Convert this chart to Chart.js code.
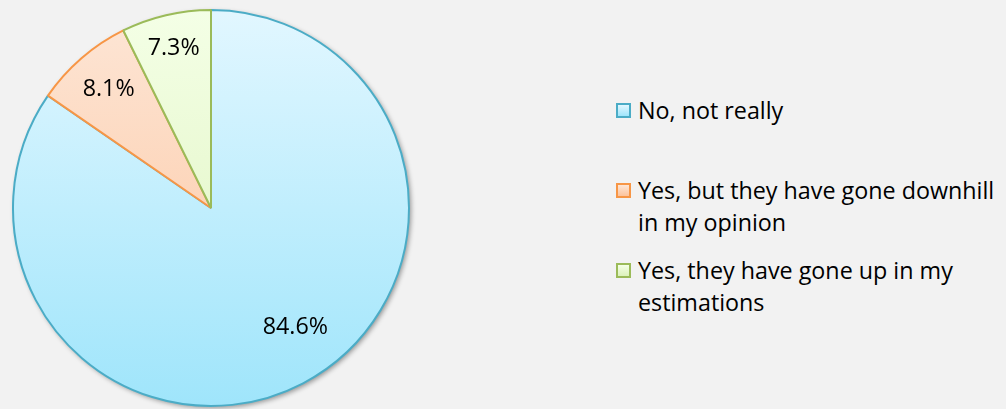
<!DOCTYPE html>
<html lang="en">
  <head>
    <meta charset="UTF-8" />
    <title>Opinion Survey</title>
    <script src="https://cdn.jsdelivr.net/npm/chart.js"></script>
    <style>
      body {
        margin: 0;
        background: #f2f2f2;
        font-family: "Open Sans", sans-serif;
        color: #000;
      }
      .wrap {
        position: relative;
        width: 1006px;
        height: 409px;
      }
      .pie-box {
        position: absolute;
        left: 0;
        top: 0;
        width: 422px;
        height: 409px;
      }
      #legend {
        position: absolute;
        left: 616px;
        top: 94px;
        width: 388px;
        font-size: 23.3px;
        line-height: 32px;
      }
      .item {
        position: relative;
        padding-left: 22px;
        margin-bottom: 16px;
      }
      .item.first {
        margin-bottom: 48px;
      }
      .swatch {
        position: absolute;
        left: 0;
        top: 9px;
        width: 11px;
        height: 11px;
        border: 2px solid;
      }
    </style>
  </head>
  <body>
    <div class="wrap">
      <div class="pie-box"><canvas id="pie"></canvas></div>
      <div id="legend"></div>
    </div>

    <script>
      const answers = [
        "No, not really",
        "Yes, but they have gone downhill in my opinion",
        "Yes, they have gone up in my estimations",
      ];
      const shares = [84.6, 8.1, 7.3];
      const edgeColors = ["#4bacc6", "#f79646", "#9bbb59"];
      const fillTop = ["#e2f7ff", "#fde6d6", "#f4ffe6"];
      const fillBottom = ["#9fe5fb", "#fcc39c", "#dcf2bb"];

      // percent labels: how far out along the slice, and a small turn (rad)
      const labelReach = [0.74, 0.79, 0.83];
      const labelTurn = [-0.13, 0, 0];

      function sliceFill(ctx) {
        const area = ctx.chart.chartArea;
        if (!area) return fillTop[ctx.dataIndex];
        const g = ctx.chart.ctx.createLinearGradient(0, area.top, 0, area.bottom);
        g.addColorStop(0, fillTop[ctx.dataIndex]);
        g.addColorStop(1, fillBottom[ctx.dataIndex]);
        return g;
      }

      const pieShadow = {
        id: "pieShadow",
        beforeDatasetsDraw(chart) {
          const arc = chart.getDatasetMeta(0).data[0];
          if (!arc) return;
          const c = chart.ctx;
          c.save();
          c.shadowColor = "rgba(0,0,0,0.4)";
          c.shadowBlur = 5;
          c.shadowOffsetX = 2;
          c.shadowOffsetY = 2;
          c.fillStyle = "#f2f2f2";
          c.beginPath();
          c.arc(arc.x, arc.y, arc.outerRadius, 0, Math.PI * 2);
          c.fill();
          c.restore();
        },
      };

      const sliceLabels = {
        id: "sliceLabels",
        afterDatasetsDraw(chart) {
          const c = chart.ctx;
          c.save();
          c.font = '23.3px "Open Sans", sans-serif';
          c.fillStyle = "#000";
          c.textAlign = "center";
          c.textBaseline = "middle";
          chart.getDatasetMeta(0).data.forEach((arc, i) => {
            const mid = (arc.startAngle + arc.endAngle) / 2 + labelTurn[i];
            const d = arc.outerRadius * labelReach[i];
            c.fillText(
              shares[i].toFixed(1) + "%",
              arc.x + Math.cos(mid) * d,
              arc.y + Math.sin(mid) * d
            );
          });
          c.restore();
        },
      };

      new Chart(document.getElementById("pie"), {
        type: "pie",
        data: {
          labels: answers,
          datasets: [
            {
              data: shares,
              backgroundColor: sliceFill,
              borderColor: edgeColors,
              borderWidth: 2,
            },
          ],
        },
        options: {
          responsive: true,
          maintainAspectRatio: false,
          animation: false,
          layout: { padding: { left: 12, right: 12, top: 9, bottom: 2 } },
          plugins: {
            legend: { display: false },
            tooltip: { enabled: false },
          },
        },
        plugins: [pieShadow, sliceLabels],
      });

      // legend beside the pie
      const legend = document.getElementById("legend");
      answers.forEach((name, i) => {
        const item = document.createElement("div");
        item.className = "item" + (i === 0 ? " first" : "");
        const sw = document.createElement("span");
        sw.className = "swatch";
        sw.style.borderColor = edgeColors[i];
        sw.style.background =
          "linear-gradient(" + fillTop[i] + ", " + fillBottom[i] + ")";
        item.appendChild(sw);
        item.appendChild(document.createTextNode(name));
        legend.appendChild(item);
      });
    </script>
  </body>
</html>
